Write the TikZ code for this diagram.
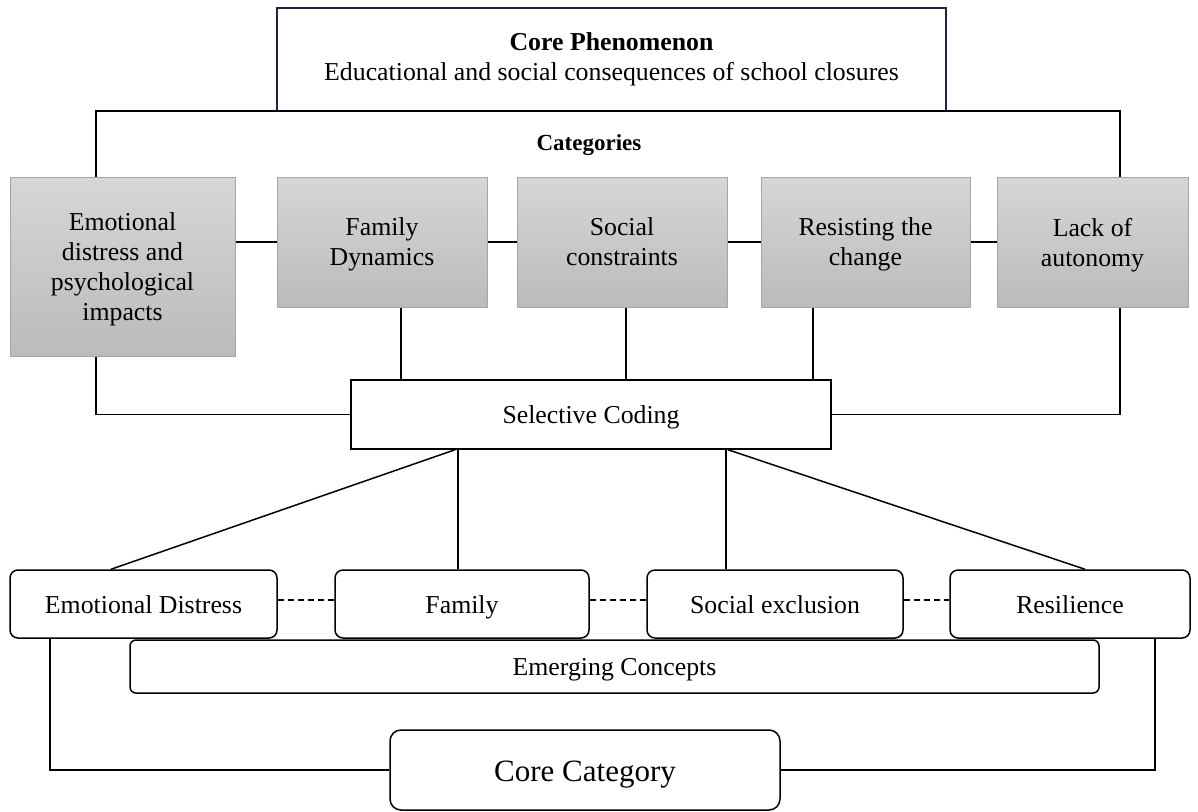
\documentclass[tikz,border=0pt]{standalone}
\usepackage{fontspec}
\setmainfont{Liberation Serif}
\definecolor{navyline}{RGB}{28,37,65}
\definecolor{gtop}{RGB}{214,214,214}
\definecolor{gbot}{RGB}{187,187,187}
\definecolor{gedge}{RGB}{165,165,165}
\begin{document}
\begin{tikzpicture}[x=1pt,y=-1pt,
  every node/.style={inner sep=0pt,align=center,font=\fontsize{25.8}{30}\selectfont},
  link/.style={line width=1.5pt,black},
  dashlink/.style={line width=1.5pt,black,dash pattern=on 6pt off 4pt},
  phenobox/.style={draw=navyline,line width=1.4pt,fill=white},
  catbox/.style={draw=gedge,line width=1pt,top color=gtop,bottom color=gbot,text depth=0pt},
  plainbox/.style={draw=black,line width=1.5pt,fill=white,text height=17pt,text depth=0pt},
  conceptbox/.style={draw=black,line width=1.5pt,fill=white,rounded corners=8pt,text height=18pt,text depth=0pt},
]
\useasboundingbox (0,0) rectangle (1198,811);

% core phenomenon
\node[phenobox,minimum width=669pt,minimum height=103pt] (top) at (611.5,59.5)
  {\textbf{Core Phenomenon}\\Educational and social consequences of school closures};

% category bracket corners
\coordinate (bl) at (96,111);
\coordinate (br) at (1120,111);
\node[font=\fontsize{23}{27}\selectfont\bfseries] (cat) at (589,145) {Categories};

% category boxes
\node[catbox,minimum width=225pt,minimum height=179pt] (g1) at (122.5,266.5)
  {Emotional\\distress and\\psychological\\impacts};
\node[catbox,minimum width=210pt,minimum height=130pt] (g2) at (382,242) {Family\\Dynamics};
\node[catbox,minimum width=210pt,minimum height=130pt] (g3) at (622,242) {Social\\constraints};
\node[catbox,minimum width=209pt,minimum height=130pt] (g4) at (865.5,242) {Resisting the\\change};
\node[catbox,minimum width=191pt,minimum height=130pt] (g5) at (1092.5,242) {Lack of\\autonomy};

% selective coding
\node[plainbox,minimum width=480pt,minimum height=69pt] (sel) at (591,414.5) {Selective Coding};

% emerging concepts
\node[conceptbox,minimum width=969pt,minimum height=53pt,rounded corners=6pt,text height=17pt] (emerg) at (614.5,666.5) {Emerging Concepts};
\node[conceptbox,minimum width=267pt,minimum height=68pt] (ed) at (143.5,604) {Emotional Distress};
\node[conceptbox,minimum width=254pt,minimum height=68pt] (fam) at (462,604) {Family};
\node[conceptbox,minimum width=256pt,minimum height=68pt] (soc) at (775,604) {Social exclusion};
\node[conceptbox,minimum width=240pt,minimum height=68pt] (res) at (1070,604) {Resilience};

% core category
\node[conceptbox,rounded corners=11pt,minimum width=390pt,minimum height=80pt,
  font=\fontsize{31}{36}\selectfont,text height=22pt] (core) at (585,770) {Core Category};

% bracket from core phenomenon to categories
\draw[link] (g1.north -| bl) -- (bl) -- (br) -- (g5.north -| br);

% links between categories
\draw[link] (g1.east |- g2.west) -- (g2.west);
\draw[link] (g2.east) -- (g3.west);
\draw[link] (g3.east) -- (g4.west);
\draw[link] (g4.east) -- (g5.west);

% categories into selective coding
\draw[link] (g1.south -| bl) |- (sel.west);
\draw[link] (g5.south -| br) |- (sel.east);
\draw[link] ([xshift=19pt]g2.south) -- ([xshift=19pt]g2.south |- sel.north);
\draw[link] ([xshift=4pt]g3.south) -- ([xshift=4pt]g3.south |- sel.north);
\draw[link] ([xshift=-52.5pt]g4.south) -- ([xshift=-52.5pt]g4.south |- sel.north);

% selective coding to emerging concepts
\draw[link] ([xshift=-136pt]sel.south) -- ([xshift=-32.5pt]ed.north);
\draw[link] ([xshift=-133pt]sel.south) -- ([xshift=-4pt]fam.north);
\draw[link] ([xshift=135pt]sel.south) -- ([xshift=-49pt]soc.north);
\draw[link] ([xshift=137pt]sel.south) -- ([xshift=15pt]res.north);

% dashed links between concepts
\draw[dashlink] ([yshift=4pt]ed.east) -- ([yshift=4pt]fam.west);
\draw[dashlink] ([yshift=4pt]fam.east) -- ([yshift=4pt]soc.west);
\draw[dashlink] ([yshift=4pt]soc.east) -- ([yshift=4pt]res.west);

% concepts to core category
\draw[link] ([xshift=-93.5pt]ed.south) |- (core.west);
\draw[link] ([xshift=85pt]res.south) |- (core.east);
\end{tikzpicture}
\end{document}
